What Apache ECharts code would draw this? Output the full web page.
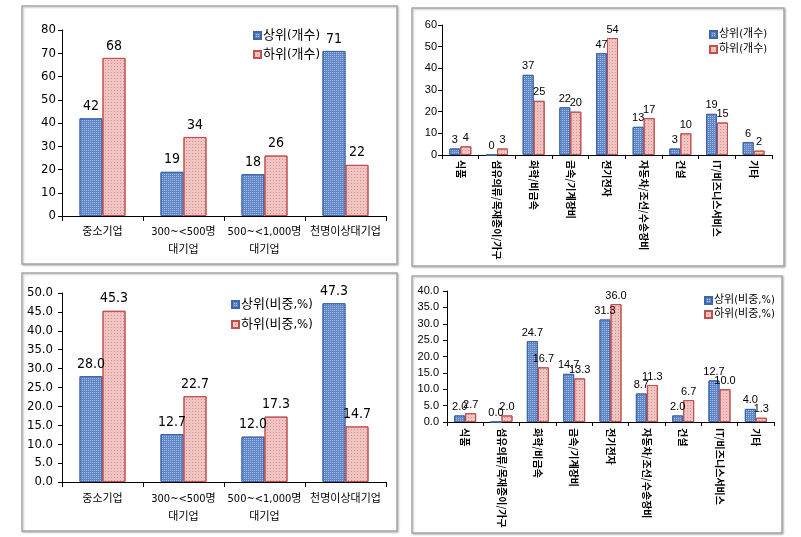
<!DOCTYPE html>
<html><head><meta charset="utf-8">
<script src="https://cdn.jsdelivr.net/npm/echarts@6/dist/echarts.min.js"></script>
<style>html,body{margin:0;padding:0;background:#fff}#c{width:801px;height:537px}</style>
</head><body><div id="c"></div>
<script>
const sizeCats = ['중소기업','300~<500명\n대기업','500~<1,000명\n대기업','천명이상대기업'];
const indCats = ['식품','섬유의류/목재종이/가구','화학/비금속','금속/기계장비','전기전자','자동차/조선/수송장비','건설','IT/비즈니스서비스','기타'];
const topCountSize = [42,19,18,71];
const lowCountSize = [68,34,26,22];
const topCountInd = [3,0,37,22,47,13,3,19,6];
const lowCountInd = [4,3,25,20,54,17,10,15,2];
const topShareSize = [28.0,12.7,12.0,47.3];
const lowShareSize = [45.3,22.7,17.3,14.7];
const topShareInd = [2.0,0.0,24.7,14.7,31.3,8.7,2.0,12.7,4.0];
const lowShareInd = [2.7,2.0,16.7,13.3,36.0,11.3,6.7,10.0,1.3];

const NARROW = "'Liberation Sans Narrow','DejaVu Sans Condensed','Noto Sans CJK KR',sans-serif";
const SANS = "'Liberation Sans','Noto Sans CJK KR',sans-serif";
const KR = "'Noto Sans CJK KR',sans-serif";

const blueStyle = {color:'#5f86c6', borderColor:'#3d65a8', borderWidth:1,
  decal:{symbol:'rect', symbolSize:1, dashArrayX:[1,1], dashArrayY:[1,1], color:'rgba(255,255,255,0.45)'}};
const pinkStyle = {color:'#efc4c3', borderColor:'#c0504d', borderWidth:1,
  decal:{symbol:'rect', symbolSize:1, dashArrayX:[1,2], dashArrayY:[1,2], color:'rgba(192,80,77,0.45)'}};

const axisLine = {show:true, lineStyle:{color:'#000', width:1}};
const axisTick = {show:true, length:4, lineStyle:{color:'#000'}};

function yAx(gi, max, interval, fmt, fontFamily, fontSize, margin){
  return {type:'value', gridIndex:gi, min:0, max:max, interval:interval,
    axisLine:axisLine, axisTick:axisTick, splitLine:{show:false},
    axisLabel:{color:'#000', fontFamily:fontFamily, fontSize:fontSize, margin:margin,
      formatter: v => fmt ? v.toFixed(1) : String(v)}};
}
function xSize(gi, margin){
  return {type:'category', gridIndex:gi, data:sizeCats, axisLine:axisLine,
    axisTick:{show:true, length:5, lineStyle:{color:'#000'}},
    axisLabel:{color:'#000', fontFamily:NARROW, fontSize:11, lineHeight:18, margin:margin, interval:0}};
}
function xInd(gi, margin){
  return {type:'category', gridIndex:gi, data:indCats, axisLine:axisLine,
    axisTick:{show:true, length:4, lineStyle:{color:'#000'}},
    axisLabel:{color:'#000', fontFamily:KR, fontSize:10, fontWeight:'bold', rotate:-90, margin:margin, interval:0}};
}
function bar(name, gi, data, style, width, fmt, fontFamily, fontSize, dist){
  return {type:'bar', name:name, xAxisIndex:gi, yAxisIndex:gi, data:data, barWidth:width, barGap:'0%',
    itemStyle:style,
    label:{show:true, position:'top', distance:dist, color:'#000', fontFamily:fontFamily, fontSize:fontSize,
      formatter: p => fmt ? p.value.toFixed(1) : String(p.value)}};
}
function legend(names, left, top, fontSize, gap){
  return {data:names, orient:'vertical', left:left, top:top, icon:'rect', itemWidth:7, itemHeight:7,
    itemGap:gap, textStyle:{color:'#000', fontFamily:NARROW, fontSize:fontSize, padding:[0,0,0,-3]}};
}
function frame(x1,y1,x2,y2){
  return {type:'rect', shape:{x:x1,y:y1,width:x2-x1,height:y2-y1}, silent:true, z:-1,
    style:{fill:'#fff', stroke:'#a8a8a8', lineWidth:1.5, shadowBlur:2, shadowOffsetX:1, shadowOffsetY:1, shadowColor:'rgba(0,0,0,0.25)'}};
}

const chart = echarts.init(document.getElementById('c'), null, {renderer:'canvas'});
chart.setOption({
  animation:false,
  graphic:[frame(22,6,397,264), frame(412,8,784,266), frame(22,273,397,531), frame(412,276,782,533)],
  grid:[
    {left:62, top:30, width:324, height:186},
    {left:442, top:25, width:330, height:130},
    {left:62, top:293, width:324, height:189},
    {left:447, top:291, width:327, height:131}
  ],
  xAxis:[xSize(0,7), xInd(1,5), xSize(2,8), xInd(3,6)],
  yAxis:[
    yAx(0,80,10,false,NARROW,13,6),
    yAx(1,60,10,false,SANS,11,5),
    yAx(2,50,5,true,NARROW,13,9),
    yAx(3,40,5,true,SANS,11,8)
  ],
  legend:[
    legend(['상위(개수)','하위(개수)'],248,24,13,6),
    legend(['상위(개수) ','하위(개수) '],704,24,11,4),
    legend(['상위(비중,%)','하위(비중,%)'],226,293,13,7),
    legend(['상위(비중,%) ','하위(비중,%) '],699,290,11,3)
  ],
  series:[
    bar('상위(개수)',0,topCountSize,blueStyle,23,false,NARROW,14,5),
    bar('하위(개수)',0,lowCountSize,pinkStyle,23,false,NARROW,14,5),
    bar('상위(개수) ',1,topCountInd,blueStyle,11,false,SANS,11,3),
    bar('하위(개수) ',1,lowCountInd,pinkStyle,11,false,SANS,11,3),
    bar('상위(비중,%)',2,topShareSize,blueStyle,23,true,NARROW,14,5),
    bar('하위(비중,%)',2,lowShareSize,pinkStyle,23,true,NARROW,14,5),
    bar('상위(비중,%) ',3,topShareInd,blueStyle,11,true,SANS,11,3),
    bar('하위(비중,%) ',3,lowShareInd,pinkStyle,11,true,SANS,11,3)
  ]
});
</script></body></html>
